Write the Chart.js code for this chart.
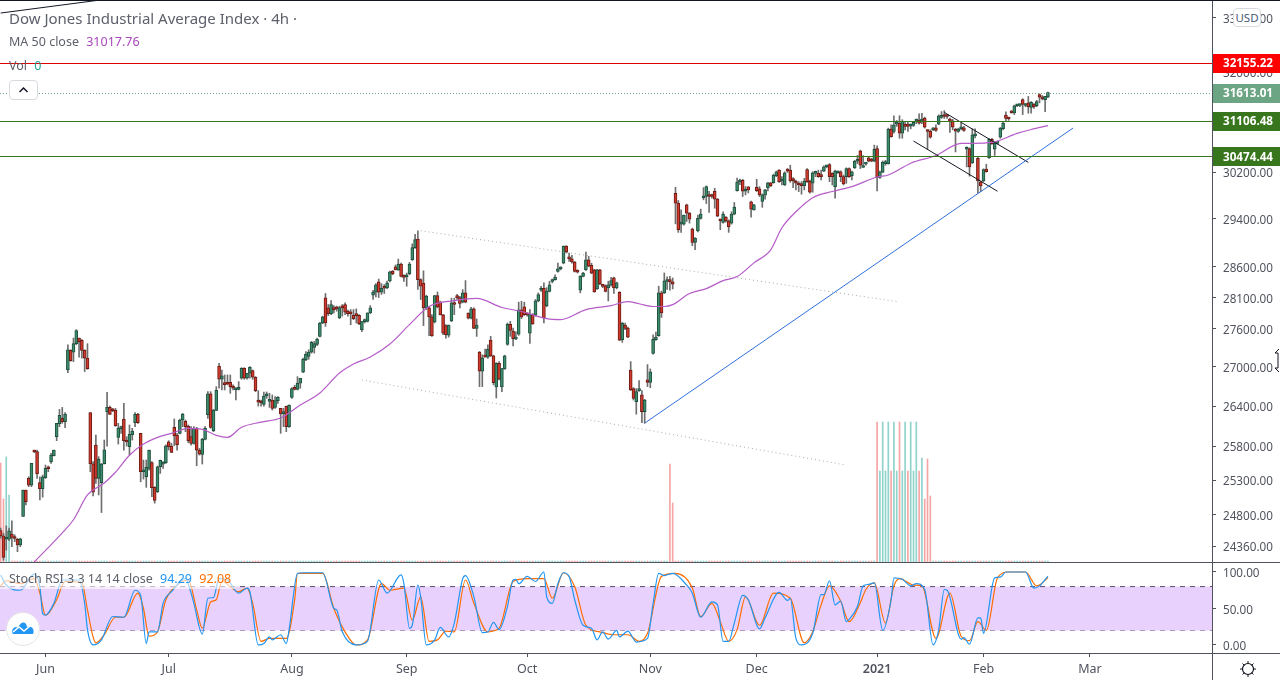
<!DOCTYPE html>
<html lang="en">
<head>
<meta charset="UTF-8">
<title>Dow Jones Industrial Average Index 4h</title>
<script src="https://cdn.jsdelivr.net/npm/chart.js@4"></script>
<style>
    body { margin: 0; background: #fff; font-family: "Noto Sans", sans-serif; color: #5d606b; }
    #wrap { position: relative; width: 1280px; height: 680px; overflow: hidden; }
    canvas { position: absolute; left: 0; top: 0; }
    .lbl { position: absolute; white-space: nowrap; font-size: 12.5px; line-height: 16px; }
    .lbl span { margin-left: 4px; }
    #title { left: 9px; top: 9px; font-size: 15px; line-height: 18px; }
    #ma { left: 9px; top: 34px; }
    #vol { left: 9px; top: 58px; }
    #stoch { left: 0; top: 571px; padding: 0 4px 2px 9px; background: rgba(255,255,255,.6); }
    #collapse { position: absolute; left: 9px; top: 80px; width: 27px; height: 18px; border: 1px solid #d8dae0; border-radius: 4px; background: #fff; }
    #usd { position: absolute; left: 1233px; top: 8px; width: 26px; height: 17px; border: 1px solid #d8dae0; border-radius: 4px; background: #fff; font-size: 11.5px; line-height: 17px; text-align: center; color: #4a5a78; }
    #logo { position: absolute; left: 6px; top: 612px; width: 32px; height: 32px; border: 1px solid #e4e4e4; border-radius: 50%; background: #fff; }
    svg { position: absolute; }
</style>
</head>
<body>
<div id="wrap">
    <canvas id="chart" width="1280" height="680"></canvas>
    <div class="lbl" id="title">Dow Jones Industrial Average Index · 4h ·</div>
    <div class="lbl" id="ma">MA 50 close <span style="color:#ab47bc">31017.76</span></div>
    <div class="lbl" id="vol">Vol <span style="color:#26a69a">0</span></div>
    <div id="collapse"><svg width="27" height="18"><path d="M9.5 11 L13.5 7 L17.5 11" fill="none" stroke="#131722" stroke-width="1.5"/></svg></div>
    <div class="lbl" id="stoch">Stoch RSI 3 3 14 14 close <span style="color:#2196f3">94.29</span> <span style="color:#ff6d00">92.08</span></div>
    <div id="usd">USD</div>
    <div id="logo"><svg width="32" height="32"><path d="M6 21 C3 16 9 12 11 15 C14 8 19 8 20 14 C25 12 28 17 26 21 Z" fill="#2196f3"/><path d="M6 19 L12 14 L17 18 L23 13" fill="none" stroke="#fff" stroke-width="1.5"/></svg></div>
    <svg style="left:1239px;top:660px" width="18" height="18"><circle cx="9" cy="9" r="5.5" fill="none" stroke="#131722" stroke-width="1.2"/><path d="M9 1v3M9 14v3M1 9h3M14 9h3M3.5 3.5l2 2M12.5 12.5l2 2M3.5 14.5l2-2M12.5 5.5l2-2" stroke="#131722" stroke-width="1"/></svg>
    <svg style="left:1274px;top:348px" width="6" height="25"><path d="M5 1 L1 5 L4 5 L4 20 L1 20 L5 24" fill="#fff" stroke="#131722" stroke-width="1"/></svg>
</div>

<script>
// open, high, low, close of each 4h bar
const candlesMayJul = [
[24578,24611,24469,24502],[24502,24540,24161,24199],[24455,24644,24303,24469],[24455,24611,24436,24573],[24526,24715,24350,24479],
[24479,24517,24422,24465],[24455,24469,24280,24375],[24375,24469,24350,24460],[24776,25157,24776,25157],[25157,25157,24943,24990],
[25325,25349,25205,25228],[25228,25545,25205,25545],[25727,25741,25702,25712],[25717,25741,25325,25393],[25266,25349,25014,25176],
[25176,25374,25052,25349],[25335,25520,25325,25471],[25476,25506,25422,25466],[25565,25692,25545,25667],[25658,25741,25653,25741],
[25940,26140,25880,26140],[26135,26350,26090,26260],[26215,26380,26140,26165],[26165,26300,26075,26280],[26954,27348,26913,27269],
[27258,27269,27090,27100],[27232,27453,27084,27364],[27364,27586,27348,27570],[27453,27453,27153,27395],[27417,27427,27137,27258],
[27258,27269,26929,27137],[27137,27364,26964,26974],[26300,26300,25422,25540],[25540,25570,25072,25124],[25815,25965,25252,25325],
[25325,25643,25086,25604],[25262,25545,24833,25535],[25540,25890,25535,25746],[26315,26610,25800,26380],[26380,26400,26275,26275],
[26345,26365,26315,26330],[26340,26365,26095,26105],[25930,26140,25830,26065],[26060,26100,25990,26080],[26205,26441,25741,25880],
[25880,25940,25800,25860],[25790,26115,25667,25975],[25970,26065,25890,26025],[26150,26300,26090,26275],[26275,26290,26140,26150],
[25990,25990,25276,25422],[25422,25594,25315,25447],[25349,25594,25195,25486],[25471,25741,25447,25741],[25555,25570,25062,25190],
[25195,25205,24967,25005],[25133,25506,25120,25496],[25496,25594,25398,25589],[25535,25570,25470,25550],[25555,25820,25545,25805],
[25865,25880,25741,25790],[25800,25840,25702,25707],[26080,26205,25805,25950],[25965,25990,25741,25820],[25990,26205,25980,26190],
[26190,26290,26090,26280],[26170,26190,26015,26090],[26100,26115,25850,25880],[25940,26090,25815,25840],[25840,26090,25830,26065],
[26065,26080,25510,25741],[25741,25765,25667,25682],[25677,25915,25535,25900],[25900,26090,25890,26065],[26270,26620,26215,26585],
[26585,26620,26065,26080],[26030,26350,26015,26340],[26335,26697,26330,26640],[27016,27058,26672,26810],[26810,26954,26646,26862],
[26738,26877,26646,26728],[26745,26877,26725,26735],[26764,26877,26595,26697],[26707,26723,26646,26672],[26651,26672,26492,26661],
[26656,26774,26646,26672],[26826,26990,26810,26980],[26980,26990,26810,26826],[26826,26903,26810,26903],[26903,27005,26826,26995],
[26944,26954,26810,26841],[26841,26851,26620,26636],[26492,26636,26400,26461],[26477,26492,26400,26451],[26426,26615,26400,26554],
[26554,26615,26518,26585],[26472,26595,26380,26492],[26492,26570,26340,26365],[26380,26543,26365,26482],[26482,26543,26441,26533],
[26365,26365,25990,26280],[26285,26365,26090,26300],[26395,26400,26015,26090],[26090,26421,26080,26415],[26533,26682,26518,26666],
[26666,26718,26646,26656],[26656,26851,26646,26749],[26749,26826,26672,26826],[26918,27137,26913,27120],[27110,27242,27100,27200],
[27163,27269,27120,27232],[27232,27400,27216,27385],[27306,27400,27216,27364],[27353,27453,27332,27438],[27480,27702,27470,27691]
];
const candlesAugOct = [
[27692,27800,27680,27788],[28095,28165,27638,27692],[27933,27987,27810,27842],[27842,28050,27825,27987],[27928,27970,27853,27906],
[27928,27960,27880,27917],[27772,27960,27760,27939],[27944,27987,27800,27933],[27987,28014,27825,27864],[27880,27896,27800,27842],
[27864,27906,27665,27837],[27815,27906,27745,27761],[27820,27917,27692,27810],[27815,27825,27665,27681],[27585,27718,27553,27713],
[27713,27756,27692,27745],[27718,27853,27707,27853],[27853,27970,27842,27933],[28137,28218,28068,28185],[28185,28325,28110,28305],
[28353,28400,28100,28185],[28185,28325,28150,28250],[28260,28310,28165,28250],[28255,28365,28245,28337],[28370,28530,28355,28520],
[28530,28540,28470,28487],[28600,28630,28550,28550],[28550,28728,28540,28645],[28645,28660,28433,28444],[28455,28470,28363,28428],
[28433,28498,28283,28470],[28487,28672,28470,28645],[28717,28980,28706,28917],[28917,29138,28906,29050],[29060,29200,28230,28390],
[28390,28405,28068,28283],[28335,28535,27650,27933],[27933,28137,27906,28122],[27933,27960,27490,27788],[27788,27825,27479,27490],
[27708,28137,27692,28130],[28130,28190,27933,27950],[28025,28040,27820,27820],[27820,27830,27505,27532],[27650,27665,27452,27505],
[27500,27660,27468,27660],[27724,28090,27713,28014],[28014,28090,27825,27987],[28130,28153,28068,28095],[28100,28120,27933,28003],
[28025,28228,28014,28175],[28175,28375,28014,28025],[27848,27853,27756,27767],[27767,27944,27756,27917],[27917,27933,27600,27606],
[27606,27756,27479,27660],[27232,27242,26697,26934],[26934,27190,26697,27142],[27174,27280,27153,27153],[27153,27347,27132,27280],
[27420,27480,27163,27174],[27174,27184,26723,26759],[26692,27068,26523,27058],[27058,27084,26800,26810],[26692,26980,26620,26975],
[26970,27184,26964,27174],[27352,27692,27340,27670],[27670,27718,27479,27575],[27564,27611,27331,27442],[27437,27553,27426,27447],
[27516,28025,27495,27901],[27901,28040,27762,27788],[27950,28025,27810,27825],[27837,27853,27800,27820],[27532,27906,27368,27825],
[27825,27842,27670,27676],[27815,28068,27800,28047],[28047,28175,28030,28147],[28218,28283,28200,28250],[28250,28337,27692,27772],
[27970,28260,27950,28200],[28200,28363,28190,28305],[28360,28400,28337,28390],[28390,28470,28380,28433],[28525,28661,28514,28568],
[28568,28600,28550,28585],[28660,28945,28650,28945],[28945,28950,28828,28845],[28760,28828,28690,28730],[28730,28790,28660,28680],
[28680,28690,28514,28525],[28530,28550,28498,28514],[28218,28455,28175,28444],[28444,28510,28433,28498],[28550,28845,28540,28717],
[28717,28772,28600,28610],[28625,28660,28487,28498],[28550,28560,28185,28190],[28240,28560,28230,28550],[28550,28560,28310,28325],
[28295,28315,28260,28280],[28295,28305,28190,28200],[28255,28365,28045,28305],[28305,28430,28283,28375],[28420,28433,28165,28255],
[28255,28350,28240,28337],[28185,28195,27412,27420],[27426,27700,27385,27692],[27660,27692,27585,27606],[27611,27627,27457,27468],
[26954,27084,26636,26646],[26667,26682,26492,26518],[26467,26667,26277,26620]
];
const candlesNovDec = [
[26636,26790,26625,26656],[26570,26636,26150,26315],[26315,26503,26140,26493],[26800,27037,26697,26760],[26760,26970,26680,26925],
[27210,27504,27200,27432],[27427,27548,27416,27470],[27490,28284,27480,28175],[28175,28203,27780,27853],[28175,28500,28165,28370],
[28360,28435,28230,28380],[28390,28444,28220,28355],[28353,28417,28240,28315],[29836,29938,29315,29667],[29667,29712,29172,29217],
[29310,29553,29172,29320],[29310,29463,29295,29463],[29638,29650,29356,29497],[29497,29508,29328,29395],[29228,29245,28950,29005],
[29005,29083,28883,29078],[29195,29463,29178,29410],[29407,29565,29395,29480],[29758,29932,29723,29792],[29780,29961,29660,29950],
[29797,29870,29510,29780],[29792,29820,29752,29780],[29870,29921,29580,29735],[29735,29746,29435,29446],[29379,29395,29217,29368],
[29340,29520,29328,29480],[29430,29440,29345,29368],[29368,29384,29172,29262],[29328,29520,29310,29480],[29480,29678,29468,29600],
[29880,30098,29870,30030],[30030,30080,29985,30035],[30058,30075,29780,29870],[29870,29950,29808,29880],[29945,29950,29840,29893],
[29690,29700,29428,29565],[29553,29645,29548,29638],[29938,30075,29865,29880],[29910,29950,29780,29808],[29695,29825,29595,29808],
[29803,29905,29735,29893],[29927,30023,29875,30013],[30013,30023,29950,29967],[30018,30165,30007,30148],[30138,30218,30121,30206],
[30235,30246,30024,30035],[30047,30121,29978,30058],[29978,30206,29967,30189],[30235,30263,30195,30218],[30235,30320,30024,30047],
[30064,30104,29933,30052],[30024,30064,29893,30007],[29995,30035,29864,29978],[29978,30035,29819,29967],[29967,30092,29893,30047],
[30246,30263,30024,30035],[30047,30064,29836,29853],[30007,30206,29853,30189],[30178,30218,30121,30195],[30178,30235,30109,30121],
[30138,30235,30064,30121],[30218,30309,30206,30292],[30292,30320,30275,30309],[30332,30349,30035,30121],[30178,30189,29978,30121],
[29950,30235,29750,30218],[30189,30218,30178,30206],[30206,30223,30035,30121],[30121,30149,29978,29995],[30121,30275,30007,30263],
[30263,30275,30109,30121],[30138,30218,30064,30206],[30275,30406,30263,30389],[30389,30491,30349,30406]
];
const candlesJanFeb = [
[30570,30583,30262,30320],[30280,30490,30280,30315],[30340,30370,30320,30355],[30450,30475,30380,30392],[30416,30440,30380,30392],
[30392,30673,30380,30600],[30613,30660,29875,30108],[30108,30217,30092,30205],[30200,30395,30188,30372],[30349,30406,30320,30372],
[30349,30975,30338,30956],[30956,31034,30812,30824],[30914,31195,30884,31034],[31045,31110,31004,31064],[31064,31195,30794,30884],
[30884,31124,30794,31094],[31046,31094,30944,31004],[31046,31075,30914,31004],[31010,31050,30960,31030],[31022,31094,31004,31075],
[31100,31136,31052,31118],[31118,31230,31046,31064],[31100,31240,31052,31136],[31154,31170,30974,30992],[30926,30944,30600,30914],
[30920,30944,30794,30812],[30944,30985,30930,30962],[30980,31034,30914,30932],[31046,31212,31034,31194],[31165,31270,31147,31194],
[31212,31287,31147,31182],[31200,31212,31147,31182],[31136,31154,30896,31100],[31106,31130,30944,30992],[30956,30968,30553,30920],
[30914,30973,30896,30962],[30962,31064,30944,30974],[30980,31004,30914,30932],[30600,30643,30291,30613],[30613,30625,30130,30291],
[30360,30962,30349,30854],[30836,30962,30800,30854],[30440,30463,29835,30046],[30034,30046,29863,29960],[30046,30258,30034,30246],
[30252,30338,30200,30206],[30452,30787,30440,30775],[30775,30794,30685,30697],[30600,30715,30492,30703],[30703,30733,30691,30721],
[30812,30986,30794,30974],[30962,31076,30944,31064],[31205,31264,31094,31147],[31154,31170,31112,31136],[31270,31287,31240,31246],
[31246,31386,31216,31374],[31374,31398,31357,31386],[31380,31404,31357,31390],[31485,31502,31216,31398],[31380,31415,31357,31404],
[31427,31543,31240,31357],[31345,31450,31240,31438],[31404,31415,31328,31357],[31374,31473,31357,31450],[31578,31590,31427,31531],
[31531,31560,31480,31500],[31485,31543,31270,31543],[31531,31620,31520,31613]
];

// time axis, in bars
const monthBars = [16, 60, 104, 145, 188, 232, 270, 313, 351, 389];
const monthLabels = ['Jun', 'Jul', 'Aug', 'Sep', 'Oct', 'Nov', 'Dec', '2021', 'Feb', 'Mar'];

// price axis and tags
const priceTicks = [24360, 24800, 25300, 25800, 26400, 27000, 27600, 28100, 28600, 29400, 30200, 32000, 33000];
const tagValues = [32155.22, 31613.01, 31106.48, 30474.44];
const tagColors = ['#ff0000', '#6ba583', '#38761d', '#38761d'];
const rsiTicks = [0, 50, 100];

// volume: almost every bar is next to nothing apart from these
const quietVolume = 3;
const spikeBars = [0, 1, 2, 3, 239, 240, 313, 314, 315, 316, 317, 318, 319, 320, 321, 322, 323, 324, 325, 326, 327, 328, 329, 330, 331, 332];
const spikeVolumes = [297, 189, 315, 201, 294, 177, 420, 273, 420, 273, 420, 273, 420, 273, 420, 273, 420, 273, 420, 273, 420, 273, 312, 189, 309, 198];
const spikeUp = [0, 0, 1, 1, 0, 0, 0, 1, 1, 1, 1, 0, 1, 1, 0, 1, 1, 0, 1, 1, 1, 0, 1, 0, 0, 0];

// MA 50
const maBars = [12, 22, 26, 31, 37, 41, 46, 51, 56, 61, 67, 72, 77, 81, 86, 93, 100, 107, 114, 121, 126, 132, 139, 146, 153, 162, 170, 179, 186, 195, 200, 209, 218, 224, 228, 233, 237, 240, 246, 252, 258, 263, 269, 275, 279, 284, 290, 297, 304, 313, 317, 325, 334, 343, 347, 354, 363, 368, 374];
const maValues = [24137, 24545, 24730, 25087, 25258, 25415, 25665, 25830, 25930, 25990, 26065, 26050, 25960, 25930, 26080, 26158, 26220, 26415, 26600, 26907, 27047, 27155, 27360, 27665, 27955, 28050, 28085, 27940, 27875, 27760, 27745, 27905, 27970, 28035, 28000, 27955, 27955, 27985, 28165, 28245, 28375, 28440, 28665, 28880, 29250, 29520, 29760, 29865, 29950, 30115, 30150, 30355, 30490, 30705, 30705, 30720, 30880, 30950, 31017.76];

// Stoch RSI
const kBars = [0, 2, 7, 12, 14, 15, 16, 19, 22, 28, 30, 31, 33, 36, 40, 44, 48, 50, 52, 53, 56, 58, 61, 66, 68, 69, 72, 74, 76, 78, 81, 85, 88, 89, 92, 94, 96, 97, 100, 102, 103, 106, 108, 115, 119, 120, 122, 127, 131, 135, 138, 143, 144, 146, 147, 149, 150, 152, 155, 157, 160, 162, 165, 166, 169, 172, 174, 176, 178, 181, 183, 184, 185, 188, 191, 194, 195, 197, 199, 201, 203, 205, 208, 211, 213, 215, 217, 220, 221, 224, 227, 231, 233, 235, 237, 240, 245, 247, 250, 254, 256, 258, 260, 262, 265, 267, 271, 273, 278, 281, 282, 284, 286, 290, 293, 294, 296, 298, 300, 302, 303, 306, 308, 310, 312, 315, 318, 319, 322, 325, 327, 330, 333, 335, 337, 338, 343, 344, 346, 349, 350, 351, 355, 357, 359, 366, 369, 371, 374];
const kValues = [96, 82, 75, 97, 80, 43, 41, 57, 89, 89, 57, 21, 0, 7, 39, 38, 75, 68, 2, 18, 18, 57, 73, 91, 71, 57, 15, 64, 65, 91, 89, 71, 78, 73, 0, 2, 11, 7, 14, 2, 21, 98, 99, 99, 50, 48, 18, 0, 5, 89, 71, 96, 84, 23, 27, 82, 66, 0, 7, 24, 11, 30, 91, 95, 66, 17, 18, 31, 21, 53, 89, 90, 84, 94, 87, 100, 66, 57, 84, 99, 94, 62, 27, 23, 7, 18, 8, 20, 11, 19, 4, 9, 57, 98, 95, 98, 82, 71, 38, 59, 55, 5, 5, 30, 68, 62, 22, 37, 72, 61, 64, 9, 0, 16, 69, 69, 88, 55, 60, 32, 35, 53, 81, 83, 85, 20, 62, 92, 90, 81, 84, 76, 0, 21, 76, 75, 8, 10, 1, 37, 37, 16, 92, 93, 100, 100, 78, 81, 94.29];
const dBars = [0, 2, 7, 12, 14, 16, 17, 20, 23, 29, 31, 33, 34, 37, 41, 44, 49, 51, 53, 56, 59, 63, 67, 70, 72, 75, 77, 79, 85, 88, 90, 93, 96, 99, 102, 105, 106, 115, 119, 123, 127, 131, 136, 139, 144, 147, 150, 153, 156, 159, 162, 166, 169, 174, 178, 183, 188, 194, 197, 201, 205, 209, 214, 219, 224, 228, 231, 236, 241, 247, 250, 254, 257, 260, 263, 266, 271, 276, 282, 287, 290, 293, 296, 300, 303, 307, 309, 312, 316, 319, 321, 326, 329, 334, 339, 343, 346, 349, 352, 356, 360, 366, 370, 374];
const dValues = [81, 88, 84, 91, 71, 41, 43, 62, 87, 85, 48, 11, 3, 14, 38, 38, 71, 50, 12, 18, 62, 82, 89, 48, 23, 59, 62, 87, 73, 78, 57, 5, 9, 9, 9, 62, 98, 98, 50, 18, 0, 7, 84, 75, 78, 34, 66, 5, 7, 19, 18, 89, 57, 18, 23, 87, 91, 91, 64, 99, 80, 27, 18, 14, 14, 5, 16, 94, 98, 78, 39, 57, 32, 5, 21, 66, 27, 71, 64, 3, 18, 55, 81, 60, 32, 58, 76, 85, 30, 81, 91, 82, 81, 9, 71, 12, 6, 32, 20, 92, 100, 100, 81, 92.08];
const bandLevels = [80, 20];

// drawn lines: first and last bar, first and last price
const blueLineBars = [230, 383];
const blueLinePrices = [26143, 30976];
const upperDotBars = [150, 320];
const upperDotPrices = [29200, 28035];
const lowerDotBars = [129, 302];
const lowerDotPrices = [26800, 25520];
const channelTopBars = [337, 367];
const channelTopPrices = [31255, 30370];
const channelLowBars = [326, 356];
const channelLowPrices = [30745, 29870];
const oldLineBars = [0, 34];
const oldLinePrices = [33092, 33330];

const firstBar = -0.24, lastBar = 432.6;
const candles = [...candlesMayJul, ...candlesAugOct, ...candlesNovDec, ...candlesJanFeb];
const points = (xs, ys) => xs.map((x, i) => ({ x: x, y: ys[i] }));
const isUp = c => c[3] >= c[0];

function drawnLine(xs, ys, color, width, dash, axis) {
    return {
        type: 'line', data: points(xs, ys), borderColor: color, borderWidth: width, borderDash: dash || [],
        pointRadius: 0, tension: 0, order: 0, yAxisID: axis || 'y', fill: false
    };
}
function curve(xs, ys, color, axis, width) {
    const d = drawnLine(xs, ys, color, width, [], axis);
    d.cubicInterpolationMode = 'monotone';
    return d;
}

const volumes = candles.map((c, i) => {
    const s = spikeBars.indexOf(i);
    return { x: i, y: s >= 0 ? spikeVolumes[s] : quietVolume };
});
const volColors = candles.map((c, i) => {
    const s = spikeBars.indexOf(i);
    const up = s >= 0 ? spikeUp[s] : isUp(c);
    return up ? '#8fd3ca' : '#f6a5a5';
});

function noPadding(s) {
    s.paddingTop = 0; s.paddingBottom = 0; s.paddingLeft = 0; s.paddingRight = 0;
}

const frame = {
    id: 'frame',
    // level lines sit on whole pixels, so they come out crisp
    afterDatasetsDraw(chart) {
        const ctx = chart.ctx, y = chart.scales.y, x = chart.scales.x;
        ctx.save();
        ctx.lineWidth = 1;
        tagValues.forEach((v, i) => {
            ctx.strokeStyle = i === 0 ? '#e00000' : tagColors[i];
            ctx.setLineDash(i === 1 ? [1, 2] : []);
            const py = Math.round(y.getPixelForValue(v)) + 0.5;
            ctx.beginPath();
            ctx.moveTo(x.left, py);
            ctx.lineTo(x.right, py);
            ctx.stroke();
        });
        ctx.restore();
    },
    afterDraw(chart) {
        const ctx = chart.ctx, y = chart.scales.y, x = chart.scales.x;
        ctx.save();
        ctx.strokeStyle = '#50535e';
        ctx.lineWidth = 1;
        ctx.beginPath();
        ctx.moveTo(x.right + 0.5, 0); ctx.lineTo(x.right + 0.5, 680);
        ctx.moveTo(0, Math.round(y.bottom) + 0.5); ctx.lineTo(1280, Math.round(y.bottom) + 0.5);
        ctx.moveTo(0, Math.round(x.top) + 0.5); ctx.lineTo(1280, Math.round(x.top) + 0.5);
        ctx.stroke();
        ctx.fillStyle = '#131722';
        ctx.fillRect(0, 0, 1280, 1);
        // price tags
        ctx.font = 'bold 11.7px "Noto Sans"';
        ctx.textAlign = 'center';
        ctx.textBaseline = 'middle';
        tagValues.forEach((v, i) => {
            const py = y.getPixelForValue(v);
            ctx.fillStyle = tagColors[i];
            ctx.fillRect(x.right + 1, Math.round(py) - 9, 67, 19);
            ctx.fillStyle = '#fff';
            ctx.fillText(v.toFixed(2), x.right + 36, py + 1);
        });
        ctx.restore();
    }
};

new Chart(document.getElementById('chart'), {
    type: 'bar',
    data: {
        datasets: [
            drawnLine(oldLineBars, oldLinePrices, '#131722', 1),
            drawnLine(blueLineBars, blueLinePrices, '#2f6fdd', 1),
            drawnLine(upperDotBars, upperDotPrices, '#a9a9a9', 1, [1, 3]),
            drawnLine(lowerDotBars, lowerDotPrices, '#a9a9a9', 1, [1, 3]),
            drawnLine(channelTopBars, channelTopPrices, '#131722', 1),
            drawnLine(channelLowBars, channelLowPrices, '#131722', 1),
            curve(maBars, maValues, '#b55cc8', 'y', 1.2),
            {
                data: candles.map((c, i) => ({ x: i, y: [c[3], c[0]] })),
                backgroundColor: candles.map(c => isUp(c) ? '#3d8c6b' : '#d23a2c'),
                borderColor: candles.map(c => isUp(c) ? '#1d4f3d' : '#6b1a14'),
                borderWidth: 1, borderSkipped: false, barThickness: 3, minBarLength: 2, grouped: false, order: 1, yAxisID: 'y'
            },
            {
                data: candles.map((c, i) => ({ x: i, y: [c[2], c[1]] })),
                backgroundColor: '#6e6e6e', barThickness: 1, grouped: false, order: 2, yAxisID: 'y'
            },
            {
                data: volumes, backgroundColor: volColors, barThickness: 1, grouped: false, order: 3, yAxisID: 'yVol'
            },
            // Stoch RSI band first, lines above it
            Object.assign(drawnLine([firstBar, lastBar], [bandLevels[0], bandLevels[0]], '#5b4d6b', 1, [5, 5], 'yRsi'),
                { fill: '+1', backgroundColor: '#e9d1fd', order: 5 }),
            Object.assign(drawnLine([firstBar, lastBar], [bandLevels[1], bandLevels[1]], '#5b4d6b', 1, [5, 5], 'yRsi'), { order: 5 }),
            curve(kBars, kValues, '#2196f3', 'yRsi', 1.2),
            curve(dBars, dValues, '#ff6d00', 'yRsi', 1.2)
        ]
    },
    options: {
        responsive: false,
        devicePixelRatio: 1,
        animation: false,
        events: [],
        layout: { padding: 0 },
        plugins: { legend: { display: false }, title: { display: false }, tooltip: { enabled: false } },
        scales: {
            x: {
                type: 'linear', offset: false, min: firstBar, max: lastBar,
                grid: { display: true, drawOnChartArea: false, offset: false, tickLength: 4, tickColor: '#50535e' },
                border: { display: false },
                afterBuildTicks(s) { s.ticks = monthBars.map(v => ({ value: v })); },
                afterFit(s) { s.height = 27; noPadding(s); },
                ticks: {
                    autoSkip: false, maxRotation: 0, padding: 5, color: '#50535e',
                    font: c => ({ family: '"Noto Sans"', size: 12.5, weight: monthBars[c.index] === 313 ? '600' : '400' }),
                    callback: (v) => monthLabels[monthBars.indexOf(v)]
                }
            },
            y: {
                type: 'logarithmic', position: 'right', stack: 'panes', stackWeight: 562,
                min: 24137, max: 33341,
                grid: { display: true, drawOnChartArea: false, tickLength: 4, tickColor: '#50535e' },
                border: { display: false },
                afterBuildTicks(s) { s.ticks = priceTicks.map(v => ({ value: v })); },
                afterFit(s) { s.width = 68; noPadding(s); },
                ticks: {
                    autoSkip: false, padding: 7, labelOffset: 2, color: '#50535e', font: { family: '"Noto Sans"', size: 11.7 },
                    callback: v => Number(v).toFixed(2)
                }
            },
            yRsi: {
                type: 'linear', position: 'right', stack: 'panes', stackWeight: 91,
                min: -11, max: 113.7,
                grid: { display: true, drawOnChartArea: false, tickLength: 4, tickColor: '#50535e' },
                border: { display: false },
                afterBuildTicks(s) { s.ticks = rsiTicks.map(v => ({ value: v })); },
                afterFit(s) { s.width = 68; noPadding(s); },
                ticks: {
                    autoSkip: false, padding: 7, labelOffset: 2, color: '#50535e', font: { family: '"Noto Sans"', size: 11.7 },
                    callback: v => Number(v).toFixed(2)
                }
            },
            yVol: { type: 'linear', display: false, min: -273, max: 1686 }
        }
    },
    plugins: [frame]
});
</script>
</body>
</html>
